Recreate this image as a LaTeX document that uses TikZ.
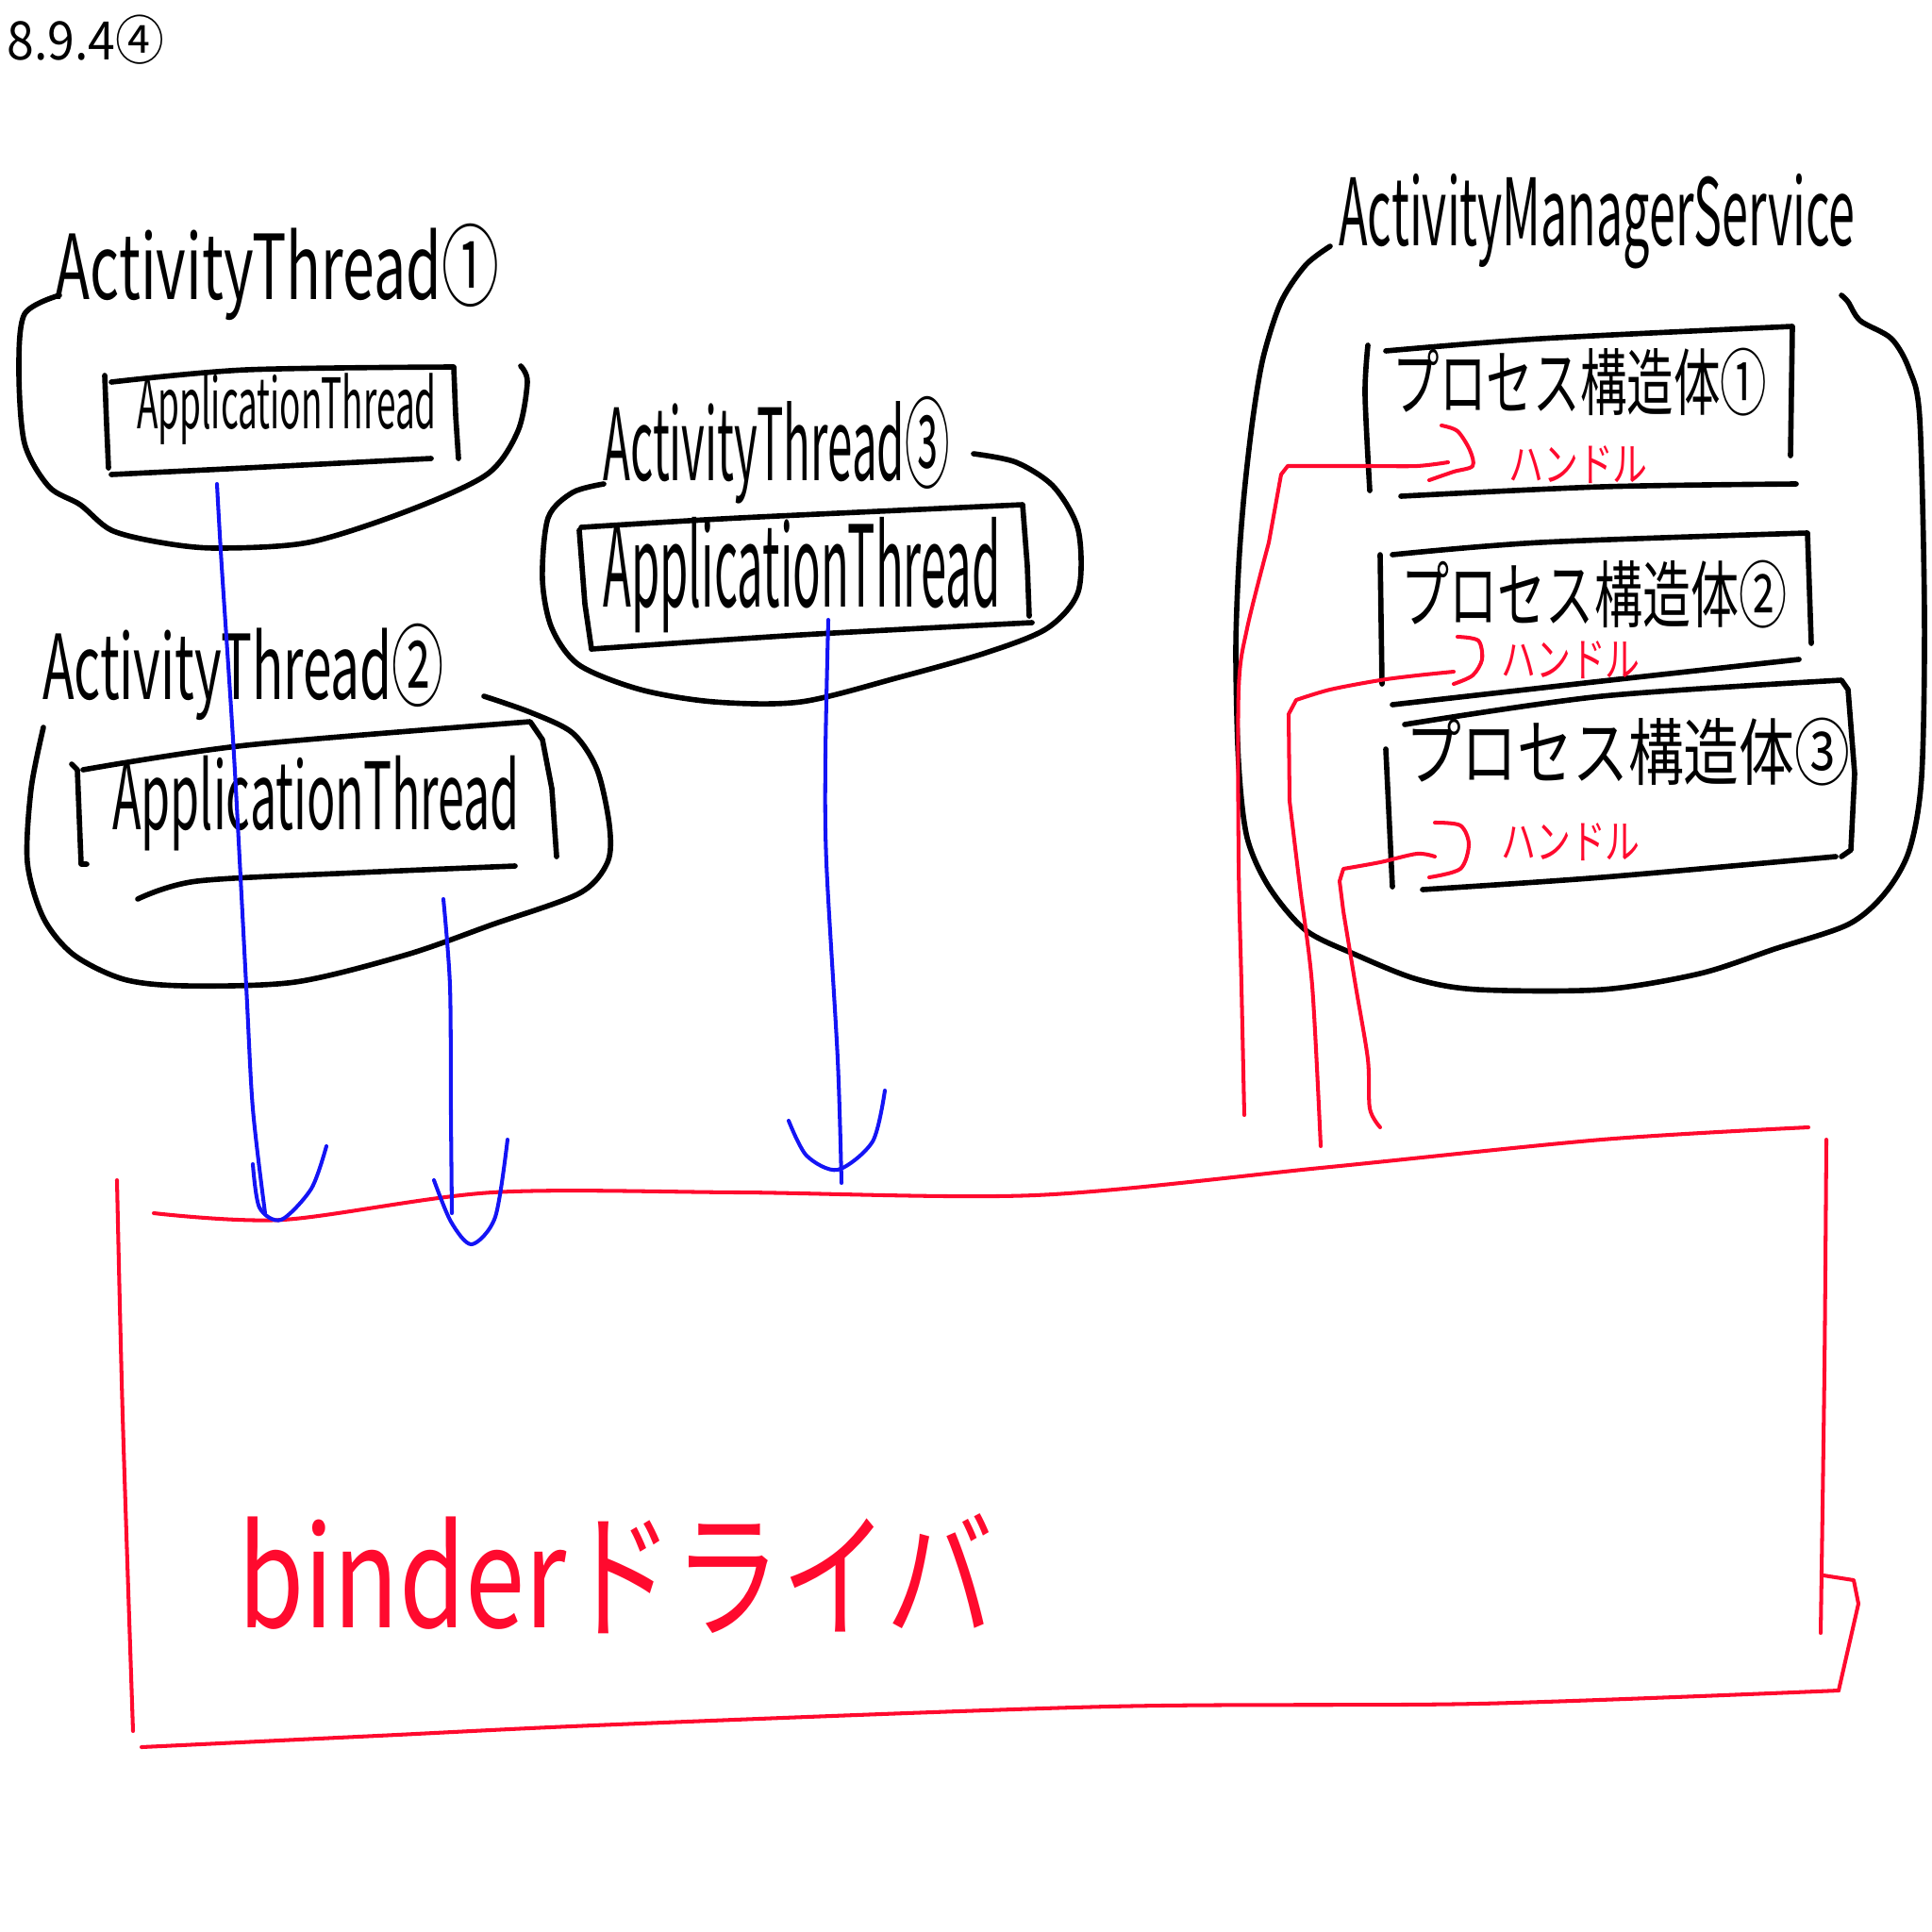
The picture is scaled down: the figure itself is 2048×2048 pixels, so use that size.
\documentclass[tikz,border=0pt]{standalone}
\usepackage{fontspec}
\usepackage{graphicx}
\setmainfont{Noto Sans CJK JP}
\newfontfamily\jp{Noto Sans CJK JP}
\definecolor{pen}{HTML}{FF0A2E}
\definecolor{ink}{HTML}{1414F5}
\newcommand\hs[2]{\scalebox{#1}[1]{#2}}
\newcommand\fsz[1]{\fontsize{#1}{#1}\selectfont}
\begin{document}
\begin{tikzpicture}[x=0.01cm,y=-0.01cm, line cap=round, line join=round,
  outline/.style={black, line width=1.6pt},
  redline/.style={pen, line width=1.15pt},
  blueline/.style={ink, line width=1.15pt},
  lbl/.style={inner sep=0pt, font=\jp}]
\fill[white] (0,0) rectangle (2048,2048);
\useasboundingbox (0,0) rectangle (2048,2048);

% ---------- title ----------
\node[lbl] (title) at (91,42) {\fsz{16pt}\hs{0.92}{8.9.4④}};

% ---------- ActivityThread 1 ----------
\node[lbl] (at1) at (294,288) {\fsz{27pt}\hs{0.64}{ActivityThread①}};
\draw[outline] plot[smooth] coordinates {(63,313) (26,333) (20,392) (26,470) (52,516) (85,535) (118,562) (170,575) (229,581) (327,575) (431,542) (516,503) (549,457) (559,405) (552,388)};
\node[lbl] (app1) at (304,434) {\fsz{21pt}\hs{0.50}{ApplicationThread}};
\draw[outline] (111,398) -- (113,450) -- (115,496);
\draw[outline] plot[smooth] coordinates {(118,405) (261,392) (481,389)} -- (483,440) -- (486,486);
\draw[outline] plot[smooth] coordinates {(118,503) (261,496) (457,486)};

% ---------- ActivityThread 2 ----------
\node[lbl] (at2) at (258,712) {\fsz{27pt}\hs{0.58}{ActivityThread②}};
\draw[outline] plot[smooth] coordinates {(46,771) (33,836) (29,914) (46,973) (78,1012) (131,1038) (196,1045) (313,1041) (431,1012) (522,980) (614,947) (644,914) (646,875) (633,816) (607,777) (562,755) (513,738)};
\node[lbl] (app2) at (335,852) {\fsz{28pt}\hs{0.51}{ApplicationThread}};
\draw[outline] (76,810) -- (82,816) -- (86,916) -- (92,916);
\draw[outline] plot[smooth] coordinates {(88,816) (261,790) (562,765)} -- (575,784) -- (585,836) -- (590,908);
\draw[outline] plot[smooth] coordinates {(146,953) (209,934) (380,925) (546,918)};

% ---------- ActivityThread 3 ----------
\node[lbl] (at3) at (823,477) {\fsz{30pt}\hs{0.45}{ActivityThread③}};
\draw[outline] plot[smooth] coordinates {(640,513) (607,522) (581,549) (575,614) (585,666) (614,705) (679,731) (757,744) (849,744) (953,718) (1045,692) (1110,666) (1143,627) (1143,562) (1117,516) (1077,490) (1032,481)};
\node[lbl] (app3) at (850,610) {\fsz{34pt}\hs{0.41}{ApplicationThread}};
\draw[outline] (614,562) -- (620,640) -- (627,688);
\draw[outline] plot[smooth] coordinates {(616,559) (784,549) (1084,535)} -- (1089,600) -- (1091,653);
\draw[outline] plot[smooth] coordinates {(627,688) (849,673) (1094,660)};

% ---------- ActivityManagerService ----------
\node[lbl] (ams) at (1693,235) {\fsz{28pt}\hs{0.51}{ActivityManagerService}};
\draw[outline] plot[smooth] coordinates {(1410,261) (1384,281) (1358,320) (1339,379) (1328,444) (1319,522) (1313,601) (1310,692) (1313,810) (1322,888) (1345,940) (1384,986) (1437,1012) (1502,1038) (1567,1049) (1698,1049) (1802,1032) (1881,1006) (1959,980) (1998,947) (2024,901) (2037,823) (2040,653) (2035,444) (2024,392) (2005,359) (1972,340) (1959,320) (1952,313)};

% process structure 1
\node[lbl] (ps1) at (1675,405) {\fsz{22pt}\hs{0.64}{プロセス構造体①}};
\draw[outline] plot[smooth] coordinates {(1450,366) (1447,418) (1452,520)};
\draw[outline] plot[smooth] coordinates {(1469,372) (1633,359) (1900,346)} -- (1898,483);
\draw[outline] plot[smooth] coordinates {(1485,526) (1698,516) (1904,513)};
\node[lbl, text=pen] (h1) at (1673,493) {\fsz{14pt}\hs{0.75}{ハンドル}};

% process structure 2
\node[lbl] (ps2) at (1690,630) {\fsz{22pt}\hs{0.66}{プロセス構造体②}};
\draw[outline] (1463,588) -- (1465,725);
\draw[outline] plot[smooth] coordinates {(1476,588) (1633,575) (1916,565)} -- (1920,682);
\draw[outline] plot[smooth] coordinates {(1476,747) (1698,722) (1907,699)};
\node[lbl, text=pen] (h2) at (1665,700) {\fsz{14pt}\hs{0.75}{ハンドル}};

% process structure 3
\node[lbl] (ps3) at (1726,797) {\fsz{22pt}\hs{0.76}{プロセス構造体③}};
\draw[outline] (1469,794) -- (1476,940);
\draw[outline] plot[smooth] coordinates {(1489,768) (1698,738) (1952,721)} -- (1959,731) -- (1966,820) -- (1962,901) -- (1952,908);
\draw[outline] plot[smooth] coordinates {(1508,943) (1698,930) (1946,908)};
\node[lbl, text=pen] (h3) at (1665,893) {\fsz{14pt}\hs{0.75}{ハンドル}};

% ---------- binder driver ----------
\draw[redline] plot[smooth] coordinates {(163,1286) (300,1293) (522,1264) (784,1264) (1097,1267) (1400,1238) (1698,1208) (1917,1195)};
\draw[redline] plot[smooth] coordinates {(124,1251) (130,1500) (141,1835)};
\draw[redline] plot[smooth] coordinates {(1936,1208) (1934,1450) (1930,1731)};
\draw[redline] (1933,1670) -- (1965,1675) -- (1970,1700) -- (1949,1792);
\draw[redline] plot[smooth] coordinates {(150,1852) (400,1840) (653,1828) (1175,1809) (1567,1806) (1949,1792)};
\node[lbl, text=pen] (binder) at (653,1668) {\fsz{42pt}\hs{0.77}{binderドライバ}};
\coordinate (bd1) at (281,1286);
\coordinate (bd2) at (479,1286);
\coordinate (bd3) at (892,1254);
\coordinate (rd1) at (1319,1182);
\coordinate (rd2) at (1400,1215);
\coordinate (rd3) at (1463,1195);

% ---------- blue connectors ----------
\coordinate (a1) at (230,513);
\coordinate (a2) at (470,953);
\coordinate (a3) at (878,657);
\draw[blueline] plot[smooth] coordinates {(a1) (235,600) (248,800) (261,1045) (268,1175) (bd1)};
\draw[blueline] plot[smooth] coordinates {(268,1234) (275,1280) (298,1293) (330,1260) (346,1215)};
\draw[blueline] plot[smooth] coordinates {(a2) (477,1045) (478,1180) (bd2)};
\draw[blueline] plot[smooth] coordinates {(460,1251) (478,1295) (500,1319) (525,1290) (538,1208)};
\draw[blueline] plot[smooth] coordinates {(a3) (875,800) (876,914) (888,1123) (bd3)};
\draw[blueline] plot[smooth] coordinates {(836,1188) (855,1225) (888,1240) (925,1210) (938,1156)};

% ---------- red connectors ----------
\coordinate (k1) at (1535,490);
\coordinate (k2) at (1541,712);
\coordinate (k3) at (1521,908);
\draw[redline] plot[smooth] coordinates {(1528,451) (1545,457) (1558,477) (1561,494) (1541,500) (1515,509)};
\draw[redline] plot[smooth] coordinates {(k1) (1502,494) (1450,494) (1365,494)} -- (1358,503) -- plot[smooth] coordinates {(1345,575) (1322,666) (1313,731) (1313,914) (1316,1045) (rd1)};
\draw[redline] plot[smooth] coordinates {(1545,675) (1567,679) (1571,699) (1561,716) (1541,725)};
\draw[redline] plot[smooth] coordinates {(k2) (1502,716) (1463,721) (1410,731) (1374,742)} -- (1366,757) -- plot[smooth] coordinates {(1367,849) (1378,940) (1391,1045) (rd2)};
\draw[redline] plot[smooth] coordinates {(1521,872) (1548,875) (1557,895) (1548,921) (1515,930)};
\draw[redline] plot[smooth] coordinates {(k3) (1502,905) (1463,914) (1424,921)} -- (1420,934) -- plot[smooth] coordinates {(1424,966) (1437,1045) (1450,1123) (1452,1175) (rd3)};
\end{tikzpicture}
\end{document}
